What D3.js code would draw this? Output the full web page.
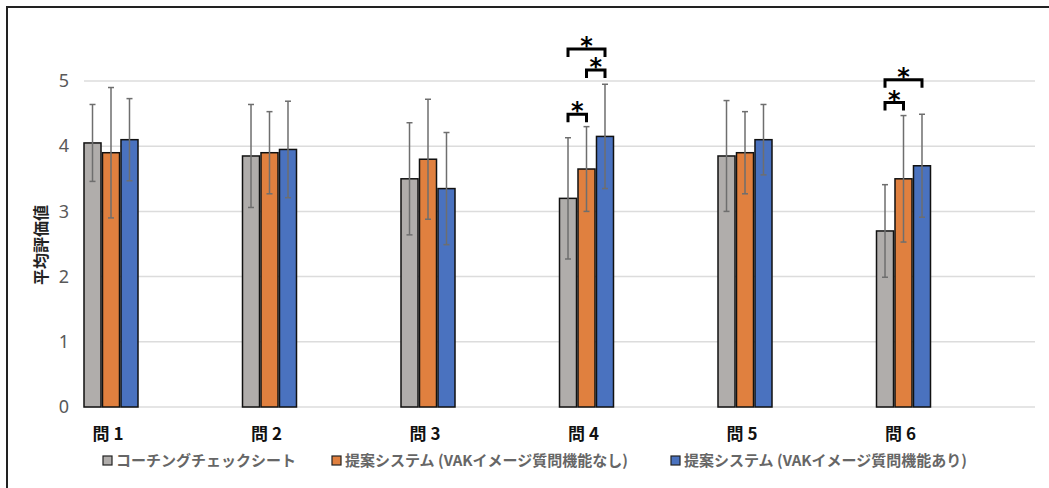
<!DOCTYPE html>
<html>
<head>
<meta charset="utf-8">
<script src="https://cdn.jsdelivr.net/npm/d3@7"></script>
<style>
  html, body { margin: 0; padding: 0; background: #fff; }
  svg { display: block; font-family: "Noto Sans CJK JP", "Noto Sans", sans-serif; }
</style>
</head>
<body>
<svg id="chart" width="1049" height="488"></svg>
<script>
// Questions on the x axis
const categories = ["問1", "問2", "問3", "問4", "問5", "問6"];
// Conditions compared
const seriesNames = [
  "コーチングチェックシート",
  "提案システム (VAKイメージ質問機能なし)",
  "提案システム (VAKイメージ質問機能あり)"
];
// Mean ratings per condition
const meanChecksheet = [4.05, 3.85, 3.50, 3.20, 3.85, 2.70];
const meanNoVak      = [3.90, 3.90, 3.80, 3.65, 3.90, 3.50];
const meanVak        = [4.10, 3.95, 3.35, 4.15, 4.10, 3.70];
// Standard deviations (error bars)
const sdChecksheet = [0.59, 0.79, 0.86, 0.93, 0.85, 0.71];
const sdNoVak      = [1.00, 0.63, 0.92, 0.65, 0.63, 0.97];
const sdVak        = [0.63, 0.74, 0.86, 0.80, 0.54, 0.79];
// Y axis ticks
const yTicks = [0, 1, 2, 3, 4, 5];
// Significant pairs: question index, series a, series b, bracket level (rating units)
const sigQuestion = [3, 3, 3, 5, 5];
const sigFrom     = [0, 1, 0, 0, 0];
const sigTo       = [1, 2, 2, 1, 2];
const sigLevel    = [4.49, 5.17, 5.49, 4.67, 5.02];

const means = [meanChecksheet, meanNoVak, meanVak];
const sds = [sdChecksheet, sdNoVak, sdVak];
const colors = ["#b0adab", "#e0803f", "#4a72bf"];

const svg = d3.select("#chart");
const plotLeft = 84, plotRight = 1035, plotTop = 81, plotBottom = 407;

const y = d3.scaleLinear().domain([0, 5]).range([plotBottom, plotTop]);
const x0 = d3.scaleBand().domain(d3.range(categories.length)).range([plotLeft, plotRight]).paddingInner(0).paddingOuter(0);
const clusterWidth = 54;
const x1 = d3.scaleBand().domain(d3.range(seriesNames.length)).range([0, clusterWidth]).paddingInner(0.08).paddingOuter(0);

// outer frame
svg.append("path")
  .attr("d", "M7,488 V7 H1049")
  .attr("fill", "none")
  .attr("stroke", "#222")
  .attr("stroke-width", 2);

// gridlines
svg.append("g")
  .selectAll("line")
  .data(yTicks)
  .join("line")
  .attr("x1", plotLeft).attr("x2", plotRight)
  .attr("y1", d => y(d)).attr("y2", d => y(d))
  .attr("stroke", "#dcdcdc")
  .attr("stroke-width", 1.5);

// y axis labels
const yAxis = d3.axisLeft(y).tickValues(yTicks).tickSize(0).tickPadding(0).tickFormat(d3.format("d"));
const yg = svg.append("g").attr("transform", "translate(69,0)").call(yAxis);
yg.select(".domain").remove();
yg.selectAll("text")
  .attr("font-size", 18)
  .attr("fill", "#595959")
  .attr("font-family", "'Noto Sans', sans-serif");

// y axis title
svg.append("text")
  .attr("transform", "translate(47,245) rotate(-90)")
  .attr("text-anchor", "middle")
  .attr("font-size", 16)
  .attr("font-weight", "bold")
  .attr("fill", "#222")
  .text("平均評価値");

// bars
const rows = [];
categories.forEach((c, qi) => {
  seriesNames.forEach((s, si) => {
    rows.push({ qi, si, v: means[si][qi], sd: sds[si][qi] });
  });
});
const barX = d => x0(d.qi) + x1(d.si);
const barCx = (qi, si) => x0(qi) + x1(si) + x1.bandwidth() / 2;

svg.append("g")
  .selectAll("rect")
  .data(rows)
  .join("rect")
  .attr("x", barX)
  .attr("width", x1.bandwidth())
  .attr("y", d => y(d.v))
  .attr("height", d => y(0) - y(d.v))
  .attr("fill", d => colors[d.si])
  .attr("stroke", "#111")
  .attr("stroke-width", 1.5);

// error bars
const eg = svg.append("g").attr("stroke", "#6e6e6e").attr("stroke-width", 1.5);
rows.forEach(d => {
  const cx = barCx(d.qi, d.si);
  const top = y(d.v + d.sd), bot = y(d.v - d.sd);
  eg.append("line").attr("x1", cx).attr("x2", cx).attr("y1", top).attr("y2", bot);
  eg.append("line").attr("x1", cx - 3).attr("x2", cx + 3).attr("y1", top).attr("y2", top);
  eg.append("line").attr("x1", cx - 3).attr("x2", cx + 3).attr("y1", bot).attr("y2", bot);
});

// category labels
svg.append("g")
  .selectAll("text")
  .data(categories)
  .join("text")
  .attr("x", (d, i) => x0(i) + clusterWidth / 2 - 1)
  .attr("y", 440)
  .attr("text-anchor", "middle")
  .attr("font-size", 17)
  .attr("font-weight", "bold")
  .attr("letter-spacing", 4)
  .attr("fill", "#111")
  .text(d => d);

// significance brackets
const sg = svg.append("g");
sigQuestion.forEach((qi, k) => {
  const xa = barCx(qi, sigFrom[k]);
  const xb = barCx(qi, sigTo[k]);
  const yl = y(sigLevel[k]);
  sg.append("path")
    .attr("d", `M${xa},${yl + 8} V${yl} H${xb} V${yl + 8}`)
    .attr("fill", "none")
    .attr("stroke", "#000")
    .attr("stroke-width", 3);
  sg.append("text")
    .attr("x", (xa + xb) / 2)
    .attr("y", yl + 5)
    .attr("text-anchor", "middle")
    .attr("font-size", 24)
    .attr("font-weight", "bold")
    .attr("font-family", "'DejaVu Sans', sans-serif")
    .attr("fill", "#000")
    .text("*");
});

// legend
const legendX = [103, 332, 671];
const lg = svg.append("g");
seriesNames.forEach((s, i) => {
  lg.append("rect")
    .attr("x", legendX[i]).attr("y", 456)
    .attr("width", 9).attr("height", 9)
    .attr("fill", colors[i])
    .attr("stroke", "#222")
    .attr("stroke-width", 1.2);
  lg.append("text")
    .attr("x", legendX[i] + 13)
    .attr("y", 466)
    .attr("font-size", 15)
    .attr("font-weight", "bold")
    .attr("fill", "#666")
    .text(s);
});
</script>
</body>
</html>
